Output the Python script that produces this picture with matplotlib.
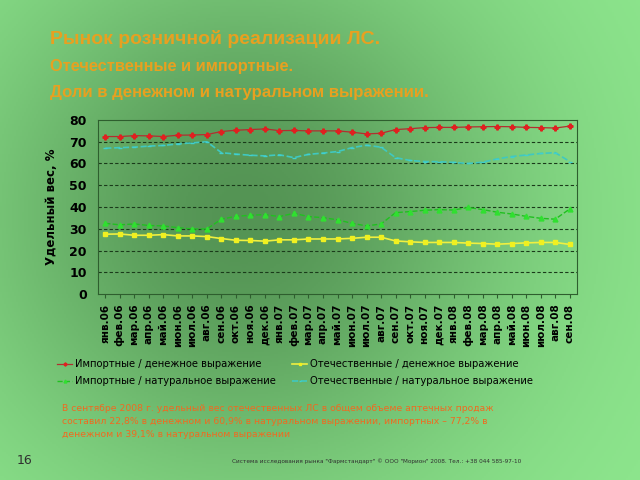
import numpy as np
import matplotlib
matplotlib.use('Agg')
import matplotlib.pyplot as plt

# =============================================================================
# data
# =============================================================================
months = ['янв.06', 'фев.06', 'мар.06', 'апр.06', 'май.06', 'июн.06', 'июл.06',
          'авг.06', 'сен.06', 'окт.06', 'ноя.06', 'дек.06', 'янв.07', 'фев.07',
          'мар.07', 'апр.07', 'май.07', 'июн.07', 'июл.07', 'авг.07', 'сен.07',
          'окт.07', 'ноя.07', 'дек.07', 'янв.08', 'фев.08', 'мар.08', 'апр.08',
          'май.08', 'июн.08', 'июл.08', 'авг.08', 'сен.08']

import_money = [72.4, 72.4, 72.8, 72.7, 72.4, 73.0, 73.1, 73.3, 74.7, 75.3, 75.6,
                75.9, 75.1, 75.2, 75.0, 75.0, 75.0, 74.4, 73.6, 73.9, 75.6, 76.0,
                76.5, 76.6, 76.6, 76.8, 76.9, 77.0, 76.9, 76.6, 76.5, 76.3, 77.2]
domestic_money = [27.5, 27.6, 27.0, 27.0, 27.3, 26.7, 26.7, 26.4, 25.5, 24.7, 24.6,
                  24.3, 24.9, 24.9, 25.3, 25.3, 25.3, 25.6, 26.1, 26.1, 24.4, 24.0,
                  23.7, 23.7, 23.7, 23.4, 23.2, 22.9, 23.2, 23.5, 23.7, 23.7, 22.8]
import_nat = [32.5, 31.8, 32.2, 31.5, 31.3, 30.5, 29.9, 29.9, 34.4, 35.7, 36.2,
              36.5, 35.6, 37.1, 35.6, 35.1, 34.1, 32.5, 31.3, 32.2, 37.4, 37.9,
              38.5, 38.8, 38.6, 39.8, 38.8, 37.6, 36.8, 35.7, 34.8, 34.4, 39.1]
domestic_nat = [67.0, 67.3, 67.5, 68.0, 68.3, 69.0, 69.5, 70.0, 65.0, 64.3, 63.8,
                63.5, 64.0, 62.7, 64.2, 64.8, 65.5, 67.3, 68.4, 67.5, 62.7, 61.4,
                60.9, 60.8, 60.5, 60.0, 60.6, 62.1, 63.2, 63.9, 64.6, 65.0, 60.9]

labels = ['Импортные / денежное выражение', 'Импортные / натуральное выражение',
          'Отечественные / денежное выражение', 'Отечественные / натуральное выражение']

plt.rcParams['font.family'] = ['DejaVu Sans']

# =============================================================================
# figure + gradient background
# =============================================================================
fig = plt.figure(figsize=(6.4, 4.8), dpi=100)
bg = fig.add_axes([0, 0, 1, 1], zorder=-10)
gx, gy = np.meshgrid(np.linspace(0, 1, 320), np.linspace(0, 1, 240))
d = np.exp(-(((gx - 0.38) / 0.42) ** 2 + ((gy - 0.45) / 0.55) ** 2))
light = np.array([0.56, 0.91, 0.56])
dark = np.array([0.33, 0.58, 0.33])
img = light[None, None, :] * (1 - d[..., None]) + dark[None, None, :] * d[..., None]
bg.imshow(img, aspect='auto', extent=[0, 1, 0, 1], origin='upper')
bg.axis('off')

# titles
orange = '#e8a020'
fig.text(50 / 640, 1 - 39 / 480, 'Рынок розничной реализации ЛС.', color=orange,
         fontsize=14, fontweight='bold', va='center', family='Liberation Sans')
fig.text(50 / 640, 1 - 66 / 480, 'Отечественные и импортные.', color=orange,
         fontsize=11.8, fontweight='bold', va='center', family='Liberation Sans')
fig.text(50 / 640, 1 - 92 / 480, 'Доли в денежном и натуральном выражении.', color=orange,
         fontsize=12.1, fontweight='bold', va='center', family='Liberation Sans')

# =============================================================================
# chart
# =============================================================================
ax = fig.add_axes([98 / 640, 1 - 294 / 480, 479 / 640, 174 / 480])
ax.patch.set_alpha(0)
x = np.arange(len(months))

l1, = ax.plot(x, import_money, color='#b03030', lw=0.9, marker='P', ms=3.5,
              mfc='#e02020', mec='#e02020')
l3, = ax.plot(x, domestic_money, color='#f0f040', lw=1.2, marker='s', ms=3.5,
              mfc='#f0f020', mec='#f0f020')
l2, = ax.plot(x, import_nat, color='#20c020', lw=1, ls='--', marker='^', ms=3.5,
              mfc='#30e030', mec='#30e030')
l4, = ax.plot(x, domestic_nat, color='#40c8c0', lw=1.2, ls='--', marker='_', ms=3,
              mfc='#40d0d0', mec='#40d0d0')

ax.set_xlim(-0.5, len(months) - 0.5)
ax.set_ylim(0, 80)
ax.set_yticks(range(0, 81, 10))
for yv in range(10, 80, 10):
    ax.axhline(yv, color='#1a3a1a', lw=0.8, ls=(0, (3, 2)), zorder=0)
ax.set_xticks(x)
ax.set_xticklabels(months, rotation=90, fontsize=7.5, fontweight='bold')
ax.tick_params(axis='y', labelsize=9, length=0, pad=8)
ax.tick_params(axis='x', length=3, color='#2e5e2e', pad=4)
for t in ax.get_yticklabels():
    t.set_fontweight('bold')
for s in ax.spines.values():
    s.set_color('#2e5e2e')
ax.set_ylabel('Удельный вес, %', fontsize=8.5, fontweight='bold', labelpad=8)

# two legend columns placed separately
leg_kw = dict(loc='upper left', frameon=False, fontsize=7.2, handlelength=1.5,
              handletextpad=0.3, labelspacing=0.75, markerscale=0.6,
              borderaxespad=0, borderpad=0)
leg1 = fig.legend([l1, l2], labels[:2], bbox_to_anchor=(57 / 640, 1 - 359 / 480), **leg_kw)
leg2 = fig.legend([l3, l4], labels[2:], bbox_to_anchor=(292 / 640, 1 - 359 / 480), **leg_kw)

# note
fig.text(62 / 640, 1 - 404 / 480,
         'В сентябре 2008 г. удельный вес отечественных ЛС в общем объеме аптечных продаж\n'
         'составил 22,8% в денежном и 60,9% в натуральном выражении, импортных – 77,2% в\n'
         'денежном и 39,1% в натуральном выражении',
         color='#f06a20', fontsize=6.7, va='top', linespacing=1.6)

# footer
fig.text(17 / 640, 1 - 461 / 480, '16', fontsize=9, va='center', color='#303030')
fig.text(232 / 640, 1 - 461 / 480,
         'Система исследования рынка "Фармстандарт" © ООО "Морион" 2008. Тел.: +38 044 585-97-10',
         fontsize=4.6, va='center', color='#303030', fontstretch='condensed')

fig.savefig('out.png', dpi=100)
